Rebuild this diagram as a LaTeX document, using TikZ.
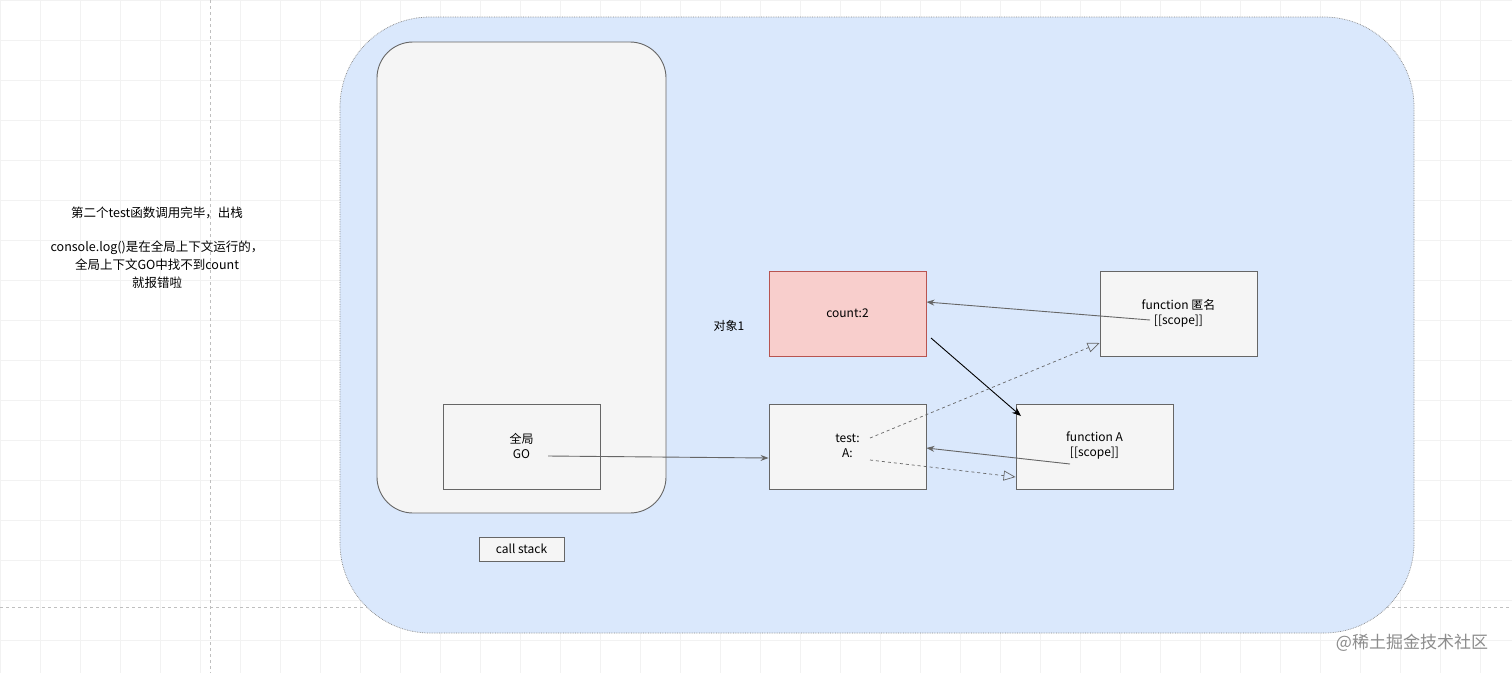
\documentclass[tikz,border=0pt]{standalone}
\usepackage{fontspec}
\setmainfont{Noto Sans CJK SC}
\usetikzlibrary{arrows.meta}
\definecolor{bgblue}{HTML}{DAE8FC}
\definecolor{bord}{HTML}{666666}
\definecolor{boxf}{HTML}{F5F5F5}
\definecolor{redf}{HTML}{F8CECC}
\definecolor{redb}{HTML}{B85450}
\begin{document}
\begin{tikzpicture}[x=1pt,y=-1pt,font=\fontsize{12}{15}\selectfont,
  box/.style={draw=bord,fill=boxf,line width=0.9pt,minimum width=157pt,minimum height=85pt,align=center,inner sep=0pt},
  conn/.style={draw=bord,line width=0.9pt,-{Stealth[length=8pt,width=6pt]}},
  dconn/.style={draw=bord,line width=0.7pt,dashed,-{Triangle[open,length=12pt,width=10pt]}}]
\useasboundingbox (0,0) rectangle (1512,673);
\fill[white] (0,0) rectangle (1512,673);
\foreach \x in {0,40,...,1512} \draw[black!5,line width=0.4pt] (\x,0) -- (\x,673);
\foreach \y in {0,40,...,673} \draw[black!5,line width=0.4pt] (0,\y) -- (1512,\y);
\draw[black!25,dashed,line width=0.8pt] (210,0) -- (210,673);
\draw[black!25,dashed,line width=0.8pt] (0,607) -- (1512,607);
\draw[fill=bgblue,draw=bord!80,densely dotted,rounded corners=90pt,line width=0.7pt] (340,17) rectangle (1414,633);
\draw[fill=boxf,draw=bord,rounded corners=36pt,line width=0.9pt] (377,42) rectangle (666,513);
\node[box] (go) at (521.5,446.5) {};
\node (gotxt) at (521.5,446) [align=center] {全局\\GO};
\node[draw=bord,fill=boxf,line width=0.9pt,minimum width=85pt,minimum height=24pt,inner sep=0pt] (cs) at (521.5,549) {call stack};
\node[box,fill=redf,draw=redb] (cnt) at (847.5,313.5) {count:2};
\node (obj) at (729,326) {对象1};
\node[box] (anon) at (1178.5,313.5) {};
\node[align=center] (anontxt) at (1178.5,313) {function 匿名\\{}[[scope]]};
\node[box] (test) at (847.5,446.5) {};
\node[align=center] (testtxt) at (847.5,446) {test:\\A:};
\node[box] (fa) at (1094.5,446.5) {};
\node[align=center] (fatxt) at (1094.5,446) {function A\\{}[[scope]]};
\coordinate (goR) at (548,456);
\coordinate (anonS) at (1150,320);
\coordinate (cntS) at (931,338);
\coordinate (testS) at (870,438);
\coordinate (aS) at (870,460);
\coordinate (faS) at (1070,464);
\draw[conn] (goR) -- (test.west |- 0,458);
\draw[conn] (anonS) -- (cnt.east |- 0,302);
\draw[line width=0.9pt,-{Stealth[length=9pt,width=7pt]}] (cntS) -- (1021,416);
\draw[dconn] (testS) -- (anon.west |- 0,343);
\draw[dconn] (aS) -- (fa.west |- 0,477);
\draw[conn] (faS) -- (test.east |- 0,448);
\node[align=center,font=\fontsize{12.5}{18}\selectfont] (note) at (157,248) {第二个test函数调用完毕，出栈\\[16pt]console.log()是在全局上下文运行的，\\全局上下文GO中找不到count\\就报错啦};
\node[text=black!45,font=\fontsize{17}{20}\selectfont] (wm) at (1412,643) {@稀土掘金技术社区};
\end{tikzpicture}
\end{document}
